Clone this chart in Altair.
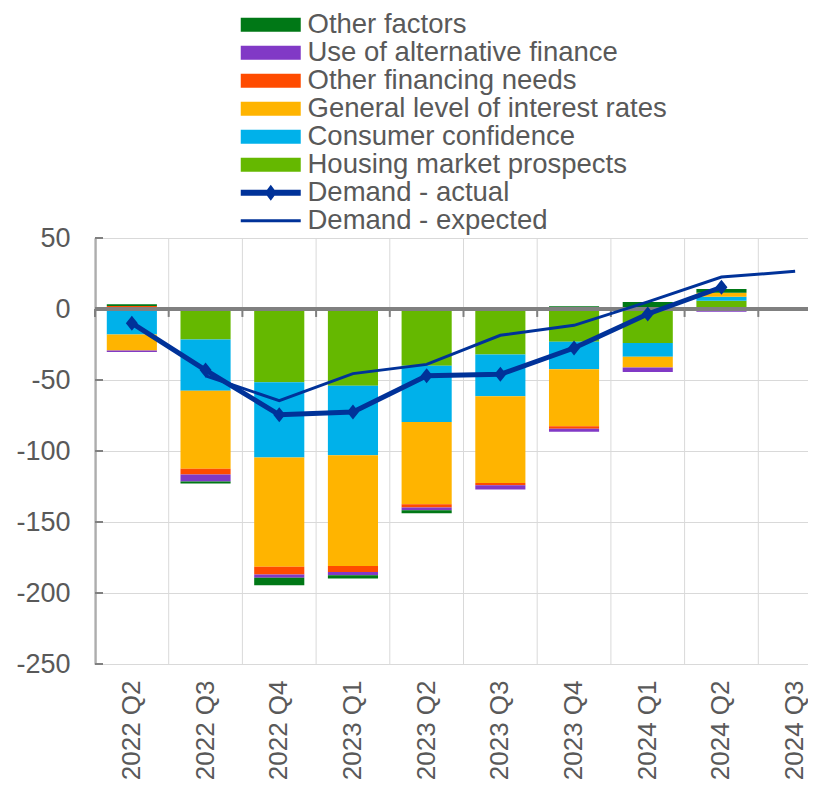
import altair as alt
import pandas as pd

categories = ["2022 Q2", "2022 Q3", "2022 Q4", "2023 Q1", "2023 Q2",
              "2023 Q3", "2023 Q4", "2024 Q1", "2024 Q2", "2024 Q3"]

housing = [None, -21.5, -51.5, -54.0, -40.0, -32.0, -23.0, -24.0, 5.8, None]
consumer = [-18.0, -36.0, -53.0, -49.0, -39.5, -29.5, -19.5, -9.7, 2.8, None]
interest = [-11.3, -55.0, -77.0, -78.0, -58.0, -61.0, -40.0, -7.5, 2.8, None]
other_financing = [2.2, -4.0, -5.5, -4.2, -2.3, -1.6, -1.9, None, None, None]
alternative_finance = [-1.0, -5.0, -2.3, -2.3, -1.9, -3.0, -2.1, -3.2, -2.0, None]
other_factors = [1.2, -1.4, -5.2, -2.3, -2.1, None, 2.0, 5.0, 2.6, None]

demand_actual = [-10.0, -43.0, -74.5, -72.5, -47.0, -46.0, -27.5, -3.5, 15.3, None]
demand_expected = [None, -47.0, -64.5, -45.5, -39.0, -18.5, -11.5, 5.0, 22.5, 26.5]

y_ticks = [50, 0, -50, -100, -150, -200, -250]

components = [
    ("Housing market prospects", housing, "#65b800"),
    ("Consumer confidence", consumer, "#00b1ea"),
    ("General level of interest rates", interest, "#ffb400"),
    ("Other financing needs", other_financing, "#ff4b00"),
    ("Use of alternative finance", alternative_finance, "#8139c6"),
    ("Other factors", other_factors, "#007816"),
]

legend_order = ["Other factors", "Use of alternative finance", "Other financing needs",
                "General level of interest rates", "Consumer confidence",
                "Housing market prospects", "Demand - actual", "Demand - expected"]
legend_colors = ["#007816", "#8139c6", "#ff4b00", "#ffb400", "#00b1ea", "#65b800",
                 "#003299", "#003299"]
RECT = "M-1,-1H7.571V1H-1Z"
ACTUAL = "M-1,-0.43H7.571V0.43H-1Z M2.43,0L3.29,-1.14L4.14,0L3.29,1.14Z"
EXPECTED = "M-1,-0.21H7.571V0.21H-1Z"
legend_shapes = [RECT] * 6 + [ACTUAL, EXPECTED]

rows = []
for i, (name, vals, _) in enumerate(components):
    for c, v in zip(categories, vals):
        if v is not None:
            rows.append({"cat": c, "component": name, "value": v, "ord": i})
bars_df = pd.DataFrame(rows)

actual_df = pd.DataFrame([{"cat": c, "v": v} for c, v in zip(categories, demand_actual) if v is not None])
expected_df = pd.DataFrame([{"cat": c, "v": v} for c, v in zip(categories, demand_expected) if v is not None])
cats_df = pd.DataFrame({"cat": categories})
yt_df = pd.DataFrame({"v": y_ticks})
legend_df = pd.DataFrame({"entry": legend_order})

FONT = "Liberation Sans"
GREY = "#595959"

xscale = alt.Scale(domain=categories, paddingInner=0, paddingOuter=0, rangeMax=737)
yscale = alt.Scale(domain=[-250, 50], nice=False, zero=False)

xaxis = alt.Axis(title=None, labelAngle=270, labelFontSize=26, labelFont=FONT,
                 labelColor=GREY, domain=False, ticks=False, grid=False, labelPadding=16)
yaxis = alt.Axis(title=None, values=y_ticks, labelFontSize=27, labelFont=FONT,
                 labelColor=GREY, domain=True, domainColor="#808080", domainWidth=2,
                 ticks=False, grid=True, gridColor="#d9d9d9", gridWidth=1, labelPadding=25,
                 labelExpr="datum.value + ''")

vgrid = alt.Chart(cats_df).mark_rule(color="#d9d9d9", strokeWidth=1).encode(
    x=alt.X("cat:N", scale=xscale, axis=xaxis, bandPosition=0, sort=categories)
)

bars = alt.Chart(bars_df).mark_bar(width=alt.RelativeBandSize(0.68)).encode(
    x=alt.X("cat:N", scale=xscale, axis=xaxis, sort=categories),
    y=alt.Y("value:Q", scale=yscale, axis=yaxis, stack="zero"),
    color=alt.Color("component:N",
                    scale=alt.Scale(domain=[c[0] for c in components],
                                    range=[c[2] for c in components]),
                    legend=None),
    order=alt.Order("ord:Q", sort="ascending"),
)

zero_line = alt.Chart(cats_df).mark_rule(color="#808080", strokeWidth=3).encode(
    y=alt.datum(0, scale=yscale)
)

xticks = alt.Chart(cats_df).mark_rule(color="#808080", strokeWidth=2).encode(
    x=alt.X("cat:N", scale=xscale, bandPosition=0, sort=categories),
    y=alt.datum(0),
    y2=alt.datum(-5.6),
)

yticks = alt.Chart(yt_df).mark_rule(color="#808080", strokeWidth=2).encode(
    y=alt.Y("v:Q", scale=yscale),
    x=alt.value(0),
    x2=alt.value(8),
)

expected_line = alt.Chart(expected_df).mark_line(color="#003299", strokeWidth=3).encode(
    x=alt.X("cat:N", scale=xscale, sort=categories),
    y=alt.Y("v:Q", scale=yscale),
)

actual_line = alt.Chart(actual_df).mark_line(color="#003299", strokeWidth=5).encode(
    x=alt.X("cat:N", scale=xscale, sort=categories),
    y=alt.Y("v:Q", scale=yscale),
)

actual_pts = alt.Chart(actual_df).mark_point(
    shape="M-0.8,0L0,-1L0.8,0L0,1Z", filled=True, size=225, opacity=1, color="#003299"
).encode(
    x=alt.X("cat:N", scale=xscale, sort=categories),
    y=alt.Y("v:Q", scale=yscale),
)

leg = alt.Legend(orient="none", legendX=139, legendY=-227, title=None,
                 labelFontSize=27.5, labelFont=FONT, labelColor=GREY,
                 symbolSize=196, symbolStrokeWidth=0, symbolOpacity=1,
                 labelOffset=46, rowPadding=-1.4, padding=0, labelLimit=700)

legend_layer = alt.Chart(legend_df).transform_filter("false").mark_point(
    filled=True, size=196, strokeWidth=0
).encode(
    fill=alt.Fill("entry:N", scale=alt.Scale(domain=legend_order, range=legend_colors), legend=leg),
    shape=alt.Shape("entry:N", scale=alt.Scale(domain=legend_order, range=legend_shapes), legend=leg),
)

chart = alt.layer(
    vgrid, bars, zero_line, xticks, yticks, expected_line, actual_line, actual_pts, legend_layer
).properties(
    width=713, height=426,
    autosize=alt.AutoSizeParams(type="none"),
    padding={"left": 87, "top": 230, "right": 0, "bottom": 118},
).configure_view(stroke=None).configure(background="white")

chart.save("out.html", embed_options={"renderer": "svg", "actions": False})
